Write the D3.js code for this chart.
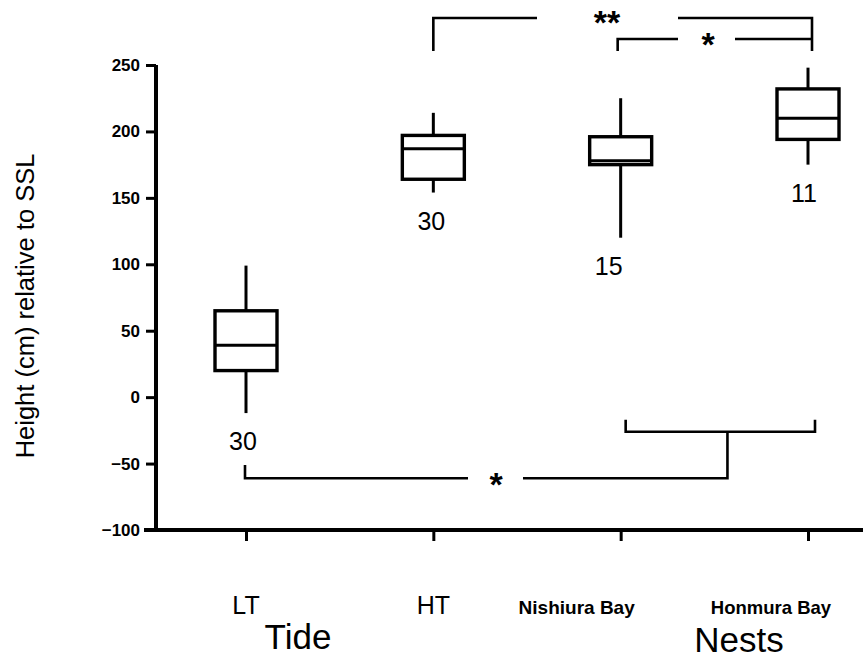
<!DOCTYPE html>
<html>
<head>
<meta charset="utf-8">
<script src="https://cdn.jsdelivr.net/npm/d3@7"></script>
<style>
  html, body { margin: 0; padding: 0; background: #fff; }
  svg { display: block; font-family: Arial, "Liberation Sans", sans-serif; }
</style>
</head>
<body>
<svg id="chart" width="863" height="659"></svg>
<script>
// Box-plot summaries (cm relative to SSL)
const categories   = ["LT", "HT", "Nishiura Bay", "Honmura Bay"];
const whiskerLow   = [-12, 154, 120, 175];
const quartile1    = [20, 164, 175, 194];
const medians      = [39, 187, 178, 210];
const quartile3    = [65, 197, 196, 232];
const whiskerHigh  = [99, 214, 225, 248];
const sampleSizes  = ["30", "30", "15", "11"];
const yTicks       = [-100, -50, 0, 50, 100, 150, 200, 250];
const groupTitles  = ["Tide", "Nests"];
const yTitle       = "Height (cm) relative to SSL";

const svg = d3.select("#chart");

const x = d3.scalePoint().domain(categories).range([246, 808]);
const y = d3.scaleLinear().domain([-100, 250]).range([530, 65]);

const boxW = 62;

// Axes
const yAxis = d3.axisLeft(y).tickValues(yTicks).tickSize(10).tickPadding(6).tickFormat(d3.format("d"));
const gy = svg.append("g").attr("transform", "translate(156,0)").call(yAxis);
gy.select(".domain").attr("stroke", "#000").attr("stroke-width", 4).attr("d", `M0,${y(250)}V${y(-100) + 2}`);
gy.selectAll(".tick line").attr("stroke", "#000").attr("stroke-width", 3);
gy.selectAll(".tick text").attr("font-size", 17).attr("font-weight", "bold").attr("fill", "#000");

const xAxis = d3.axisBottom(x).tickSize(11).tickFormat("");
const gx = svg.append("g").attr("transform", `translate(0,${y(-100)})`).call(xAxis);
gx.select(".domain").attr("stroke", "#000").attr("stroke-width", 4).attr("d", "M144,0H863");
gx.selectAll(".tick line").attr("stroke", "#000").attr("stroke-width", 3);

// Category labels
const labelStyle = {
  "LT": { dx: 0, size: 25, weight: "normal" },
  "HT": { dx: 0, size: 25, weight: "normal" },
  "Nishiura Bay": { dx: -44, size: 19, weight: "bold" },
  "Honmura Bay": { dx: -37, size: 18.5, weight: "bold" }
};
svg.append("g").selectAll("text").data(categories).join("text")
  .attr("x", d => x(d) + labelStyle[d].dx)
  .attr("y", 614)
  .attr("text-anchor", "middle")
  .attr("font-size", d => labelStyle[d].size)
  .attr("font-weight", d => labelStyle[d].weight)
  .text(d => d);

// Group titles
svg.append("text").attr("x", 298).attr("y", 649).attr("text-anchor", "middle")
  .attr("font-size", 35).text(groupTitles[0]);
svg.append("text").attr("x", 739).attr("y", 652).attr("text-anchor", "middle")
  .attr("font-size", 35).text(groupTitles[1]);

// Y-axis title
svg.append("text")
  .attr("transform", `translate(34,306) rotate(-90)`)
  .attr("text-anchor", "middle")
  .attr("font-size", 25.5)
  .text(yTitle);

// Boxes
const rows = categories.map((c, i) => ({
  c, lo: whiskerLow[i], q1: quartile1[i], med: medians[i], q3: quartile3[i], hi: whiskerHigh[i], n: sampleSizes[i]
}));
const nDx = { "LT": -3, "HT": -2, "Nishiura Bay": -12, "Honmura Bay": -4 };

const gb = svg.append("g").attr("stroke", "#000").attr("fill", "none");
const box = gb.selectAll("g").data(rows).join("g");
box.append("line").attr("x1", d => x(d.c)).attr("x2", d => x(d.c))
  .attr("y1", d => y(d.hi)).attr("y2", d => y(d.q3)).attr("stroke-width", 3);
box.append("line").attr("x1", d => x(d.c)).attr("x2", d => x(d.c))
  .attr("y1", d => y(d.q1)).attr("y2", d => y(d.lo)).attr("stroke-width", 3);
box.append("rect").attr("x", d => x(d.c) - boxW / 2).attr("width", boxW)
  .attr("y", d => y(d.q3)).attr("height", d => y(d.q1) - y(d.q3))
  .attr("fill", "#fff").attr("stroke-width", 3.4);
box.append("line").attr("x1", d => x(d.c) - boxW / 2).attr("x2", d => x(d.c) + boxW / 2)
  .attr("y1", d => y(d.med)).attr("y2", d => y(d.med)).attr("stroke-width", 3);

// Sample sizes below each box
svg.append("g").selectAll("text").data(rows).join("text")
  .attr("x", d => x(d.c) + nDx[d.c])
  .attr("y", d => y(d.lo) + 37)
  .attr("text-anchor", "middle")
  .attr("font-size", 25)
  .text(d => d.n);

// Significance brackets
const gs = svg.append("g").attr("stroke", "#000").attr("stroke-width", 2.6).attr("fill", "none");
const star = (cx, cy, s) => svg.append("text").attr("x", cx).attr("y", cy + 17)
  .attr("text-anchor", "middle").attr("font-size", 34).attr("font-weight", "bold").text(s);

const xHT = x("HT"), xNB = x("Nishiura Bay"), xHB = x("Honmura Bay"), xLT = x("LT");
// HT vs Honmura Bay (**)
const yTop = 18, yInner = 39, yLeg = 51;
gs.append("path").attr("d", `M${xHT},${yLeg}V${yTop}H${537}`);
gs.append("path").attr("d", `M${678},${yTop}H${xHB + 4}V${yLeg}`);
star(607, yTop - 1, "**");
// Nishiura Bay vs Honmura Bay (*)
gs.append("path").attr("d", `M${xNB - 3},${yLeg}V${yInner}H${678}`);
gs.append("path").attr("d", `M${735},${yInner}H${xHB + 4}`);
star(708, yInner, "*");

// LT vs pooled nests (*)
const yNests = y(-26), yNestTick = y(-17), yLow = y(-61), yLowTick = y(-51);
const xJoin = xNB + 0.57 * (xHB - xNB);
gs.append("path").attr("d", `M${xNB + 5},${yNestTick}V${yNests}H${xHB + 7}V${yNestTick}`);
gs.append("path").attr("d", `M${xJoin},${yNests}V${yLow}H${523}`);
gs.append("path").attr("d", `M${xLT - 1},${yLowTick}V${yLow}H${468}`);
star(496, yLow + 1, "*");
</script>
</body>
</html>
